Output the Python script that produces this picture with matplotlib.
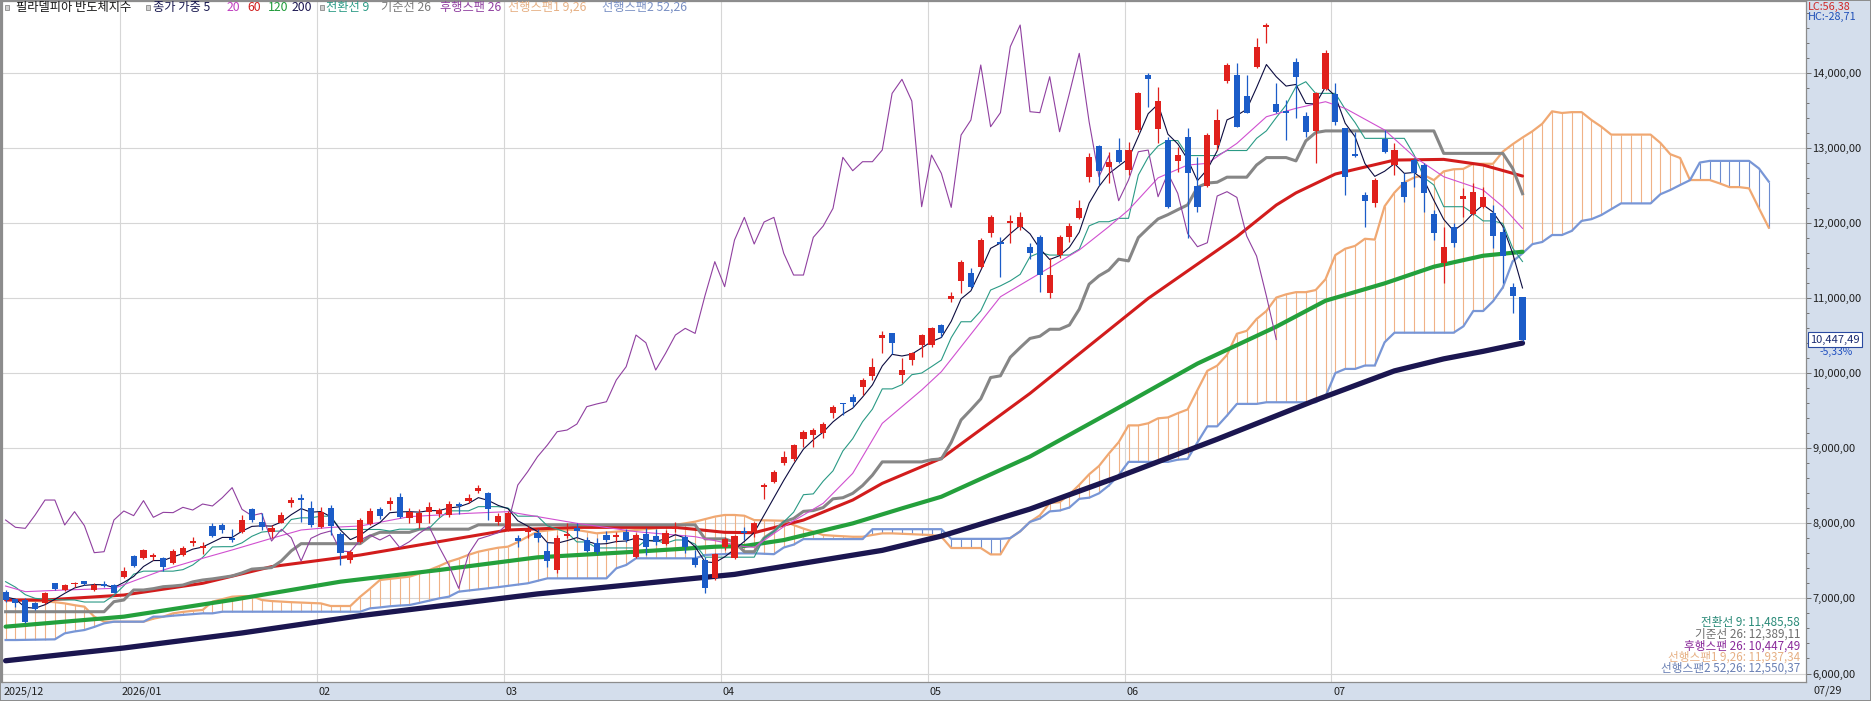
import numpy as np
import matplotlib
matplotlib.use("Agg")
import matplotlib.pyplot as plt
import matplotlib.transforms as mtransforms
from matplotlib.patches import Rectangle
from matplotlib.ticker import MultipleLocator

plt.rcParams['font.family'] = ['Noto Sans CJK KR', 'DejaVu Sans']

# ---------------- data ----------------
month_labels = ['2025/12', '2026/01', '02', '03', '04', '05', '06', '07']
month_start = [0, 12, 32, 51, 73, 94, 114, 135]

open_ = [7090, 6988, 6979, 6934, 6934, 7201, 7112, 7188, 7227, 7112,
         7192, 7178, 7281, 7565, 7534, 7547, 7534, 7467, 7578, 7733,
         7676, 7964, 7978, 7800, 7889, 8186, 8022, 7889, 8009, 8266,
         8333, 8208, 7947, 8208, 7858, 7512, 7756, 7991, 8186, 8253,
         8346, 8075, 8009, 8151, 8124, 8111, 8253, 8297, 8435, 8408,
         8013, 7920, 7809, 7884, 7875, 7631, 7378, 7836, 7933, 7778,
         7742, 7844, 7822, 7889, 7547, 7853, 7831, 7725, 7929, 7813,
         7534, 7512, 7267, 7680, 7534, 7897, 7888, 8478, 8545, 8798,
         8851, 9122, 9175, 9197, 9464, 9598, 9686, 9810, 9961, 10463,
         10529, 9974, 10174, 10374, 10374, 10640, 10990, 11231, 11328, 11408,
         11870, 11741, 12004, 11941, 11674, 11816, 11062, 11573, 11816, 12061,
         12607, 13024, 12740, 12971, 12704, 13237, 13969, 13246, 13104, 12829,
         13139, 12496, 12496, 13037, 13894, 13969, 13690, 14080, 14613, 13579,
         13481, 14147, 13423, 13228, 13778, 13712, 13259, 12913, 12371, 12269,
         13112, 12771, 12549, 12837, 12771, 12118, 11461, 11949, 12314, 12114,
         12216, 12127, 11883, 11150, 11008]
high_ = [7112, 6998, 7000, 6957, 7090, 7210, 7187, 7214, 7236, 7201,
         7232, 7192, 7414, 7578, 7658, 7600, 7547, 7658, 7698, 7822,
         7756, 8000, 8009, 7920, 8111, 8200, 8133, 7978, 8155, 8346,
         8390, 8302, 8222, 8244, 7889, 7645, 8066, 8200, 8213, 8346,
         8399, 8200, 8186, 8288, 8200, 8302, 8288, 8390, 8510, 8422,
         8142, 8169, 7844, 7964, 7920, 7756, 7844, 8009, 8009, 7822,
         7800, 7898, 7889, 7920, 7867, 7933, 7920, 7911, 8022, 7844,
         7645, 7547, 7609, 7822, 7844, 7955, 8021, 8532, 8709, 8962,
         9051, 9242, 9264, 9344, 9575, 9606, 9721, 9930, 10205, 10560,
         10540, 10196, 10285, 10520, 10618, 10660, 11080, 11506, 11395, 11794,
         12105, 11816, 12105, 12149, 11728, 11839, 11528, 11839, 11994, 12305,
         12926, 13037, 12949, 13126, 13082, 13747, 14000, 13814, 13148, 13015,
         13259, 12882, 13193, 13512, 14134, 14125, 13969, 14458, 14657, 13867,
         13636, 14191, 13481, 13747, 14302, 13858, 13259, 13214, 12416, 12593,
         13237, 13059, 12660, 12859, 12793, 12171, 11949, 11994, 12460, 12535,
         12482, 12238, 11949, 11195, 11008]
low_ = [6957, 6890, 6668, 6846, 6921, 7112, 7099, 7156, 7183, 7094,
        7147, 7068, 7267, 7414, 7520, 7512, 7369, 7454, 7565, 7698,
        7591, 7822, 7875, 7756, 7867, 8022, 7911, 7800, 8000, 8222,
        8022, 7955, 7933, 7844, 7445, 7467, 7733, 7978, 8053, 8177,
        8066, 8000, 7933, 8000, 8089, 8089, 8124, 8266, 8408, 8044,
        7978, 7898, 7680, 7800, 7756, 7423, 7334, 7800, 7822, 7622,
        7591, 7756, 7756, 7756, 7534, 7578, 7711, 7711, 7889, 7609,
        7423, 7076, 7245, 7645, 7520, 7777, 7822, 8319, 8532, 8776,
        8834, 9020, 9020, 9131, 9397, 9442, 9553, 9708, 9908, 10263,
        10254, 9863, 10107, 10219, 10352, 10480, 10950, 11062, 11128, 11395,
        11816, 11284, 11728, 11905, 11515, 11084, 10995, 11528, 11750, 12047,
        12549, 12505, 12527, 12793, 12638, 13215, 13548, 13059, 12194, 12682,
        11794, 12149, 12482, 12971, 13858, 13281, 13460, 14058, 14391, 13470,
        13104, 13392, 13148, 12793, 13769, 13303, 12371, 12880, 11949, 12216,
        12926, 12637, 12282, 12482, 12149, 11772, 11195, 11683, 12082, 12105,
        12194, 11661, 11195, 10795, 10431]
close_ = [6979, 6943, 6690, 6855, 7076, 7125, 7174, 7201, 7192, 7183,
          7165, 7076, 7369, 7432, 7645, 7574, 7423, 7631, 7676, 7764,
          7698, 7831, 7911, 7778, 8044, 8044, 7947, 7933, 8111, 8310,
          8310, 7978, 8155, 7969, 7609, 7622, 8044, 8164, 8102, 8302,
          8080, 8146, 8142, 8213, 8177, 8257, 8231, 8341, 8475, 8186,
          8102, 8133, 7764, 7920, 7809, 7498, 7800, 7862, 7898, 7631,
          7622, 7778, 7844, 7778, 7844, 7680, 7756, 7867, 7955, 7689,
          7445, 7134, 7591, 7791, 7831, 7875, 7999, 8510, 8687, 8887,
          9042, 9220, 9242, 9322, 9553, 9589, 9619, 9908, 10085, 10507,
          10405, 10041, 10263, 10507, 10596, 10529, 11030, 11484, 11151, 11772,
          12074, 11719, 12012, 12074, 11595, 11306, 11306, 11808, 11958, 12194,
          12873, 12695, 12815, 12815, 12971, 13725, 13912, 13623, 12216, 12904,
          12660, 12207, 13170, 13370, 14103, 13281, 13468, 14347, 14635, 13481,
          13468, 13947, 13214, 13725, 14258, 13348, 12615, 12895, 12296, 12571,
          12948, 12970, 12349, 12660, 12393, 11860, 11683, 11736, 12358, 12416,
          12340, 11825, 11559, 11026, 10447.49]

# weighted MA 5 (value per bar)
ma5 = [7020, 6990, 6880, 6870, 6916, 6988, 7067, 7139, 7174, 7184,
       7181, 7145, 7213, 7292, 7425, 7504, 7505, 7553, 7598, 7656,
       7684, 7748, 7812, 7812, 7895, 7959, 7967, 7963, 8017, 8115,
       8196, 8148, 8157, 8089, 7910, 7783, 7842, 7937, 8010, 8141,
       8152, 8155, 8149, 8169, 8169, 8204, 8219, 8264, 8342, 8305,
       8239, 8195, 8034, 7963, 7892, 7743, 7735, 7769, 7810, 7762,
       7723, 7729, 7757, 7765, 7803, 7772, 7762, 7791, 7848, 7804,
       7689, 7486, 7477, 7553, 7654, 7759, 7877, 8108, 8337, 8572,
       8789, 8988, 9112, 9214, 9351, 9455, 9533, 9681, 9843, 10095,
       10250, 10228, 10253, 10335, 10419, 10474, 10689, 10988, 11096, 11367,
       11661, 11733, 11857, 11966, 11855, 11658, 11513, 11563, 11676, 11876,
       12262, 12485, 12655, 12757, 12855, 13152, 13455, 13580, 13182, 13053,
       12848, 12563, 12712, 12958, 13372, 13432, 13512, 13802, 14109, 13947,
       13822, 13844, 13591, 13583, 13813, 13688, 13327, 13148, 12791, 12620,
       12688, 12789, 12660, 12672, 12569, 12301, 12047, 11896, 11993, 12130,
       12240, 12146, 11954, 11596, 11134]

# longer MAs, read at selected bars
ma20_idx = [0, 2, 6, 11, 16, 20, 23, 27, 30, 33, 36, 41, 47, 51, 54, 58, 64, 70, 75, 76,
            79, 83, 86, 89, 93, 95, 101, 105, 109, 112, 114, 117, 120, 122, 125, 128, 131,
            134, 136, 140, 143, 146, 150, 152, 154]
ma20_val = [7165, 7090, 7112, 7134, 7378, 7534, 7645, 7800, 7911, 7946, 7964, 8089, 8133,
            8155, 8089, 8000, 7889, 7822, 7690, 7680, 7955, 8266, 8665, 9331, 9775, 10019,
            11017, 11328, 11639, 11950, 12172, 12600, 12771, 12793, 13059, 13414, 13526,
            13614, 13525, 13237, 12882, 12615, 12438, 12216, 11927]
ma60_idx = [0, 4, 12, 20, 27, 36, 44, 51, 58, 68, 73, 76, 81, 86, 89, 95, 104, 116, 125,
            129, 131, 135, 141, 146, 150, 154]
ma60_val = [6979, 6979, 7045, 7201, 7423, 7578, 7756, 7911, 7946, 7946, 7880, 7875, 8043,
            8310, 8532, 8865, 9730, 10995, 11817, 12238, 12400, 12651, 12837, 12846, 12771,
            12624]
ma120_idx = [0, 12, 23, 34, 44, 54, 64, 72, 75, 79, 86, 91, 95, 104, 113, 121, 129, 134,
             140, 145, 150, 154]
ma120_val = [6624, 6757, 6980, 7223, 7378, 7547, 7622, 7688, 7698, 7777, 7999, 8199, 8354,
             8889, 9540, 10127, 10618, 10964, 11195, 11417, 11563, 11616]
ma200_idx = [0, 12, 24, 36, 54, 74, 89, 95, 104, 113, 123, 133, 141, 146, 150, 154]
ma200_val = [6170, 6340, 6540, 6770, 7060, 7320, 7640, 7830, 8190, 8620, 9120, 9640, 10030,
             10190, 10290, 10400]

# Ichimoku
conv9 = [7223, 7150, 7050, 7001, 6990, 6985, 6980, 6979, 6952, 6952,
         6952, 7041, 7168, 7323, 7363, 7363, 7363, 7363, 7383, 7445,
         7545, 7685, 7689, 7689, 7740, 7827, 7883, 7896, 7896, 8051,
         8073, 8073, 8095, 8095, 7918, 7918, 7918, 7918, 7918, 7896,
         7922, 7922, 7922, 7933, 8066, 8166, 8166, 8166, 8222, 8222,
         8222, 8204, 8095, 8095, 8095, 7967, 7922, 7878, 7752, 7752,
         7672, 7672, 7672, 7672, 7672, 7772, 7772, 7734, 7778, 7778,
         7723, 7549, 7549, 7549, 7549, 7549, 7549, 7804, 7893, 8019,
         8148, 8381, 8392, 8561, 8699, 8963, 9127, 9353, 9520, 9790,
         9790, 9846, 9979, 10001, 10086, 10174, 10472, 10684, 10684, 10829,
         11106, 11162, 11229, 11315, 11550, 11606, 11572, 11572, 11572, 11650,
         11961, 12016, 12016, 12061, 12061, 12638, 12875, 13024, 13097, 13097,
         12897, 12897, 12897, 12897, 12964, 12964, 12964, 13126, 13226, 13403,
         13570, 13814, 13880, 13725, 13725, 13725, 13514, 13337, 13126, 13126,
         13126, 13126, 13126, 12904, 12604, 12505, 12216, 12216, 12216, 12127,
         12027, 12027, 11994, 11665, 11486]
base26 = [6823, 6823, 6823, 6823, 6823, 6823, 6823, 6823, 6823, 6823,
          6823, 6957, 6979, 7112, 7112, 7130, 7156, 7165, 7178, 7220,
          7245, 7260, 7280, 7299, 7340, 7390, 7400, 7410, 7500, 7633,
          7729, 7729, 7729, 7729, 7729, 7729, 7729, 7829, 7880, 7880,
          7880, 7880, 7922, 7922, 7922, 7922, 7922, 7922, 7980, 7980,
          7980, 7980, 7980, 7980, 7980, 7980, 7980, 7980, 7980, 7980,
          7980, 7980, 7980, 7980, 7980, 7980, 7980, 7980, 7980, 7980,
          7980, 7793, 7793, 7793, 7749, 7622, 7622, 7804, 7893, 8019,
          8064, 8159, 8170, 8210, 8326, 8341, 8399, 8503, 8641, 8818,
          8818, 8818, 8818, 8818, 8847, 8858, 9078, 9376, 9513, 9657,
          9941, 9964, 10212, 10340, 10462, 10491, 10584, 10584, 10640, 10851,
          11184, 11295, 11372, 11517, 11494, 11805, 11932, 12053, 12110, 12176,
          12240, 12475, 12531, 12542, 12609, 12609, 12609, 12771, 12870, 12870,
          12870, 12826, 13092, 13203, 13225, 13225, 13225, 13225, 13225, 13225,
          13225, 13225, 13225, 13225, 13225, 13225, 12926, 12926, 12926, 12926,
          12926, 12926, 12926, 12726, 12389]
span1 = [6980, 6975, 6970, 6965, 6960, 6950, 6934, 6910, 6890, 6757,
         6690, 6690, 6690, 6690, 6690, 6730, 6757, 6801, 6820, 6835,
         6846, 6957, 6990, 7023, 7030, 7032, 6979, 6965, 6957, 6950,
         6945, 6940, 6934, 6899, 6899, 6899, 7023, 7130, 7245, 7260,
         7275, 7290, 7330, 7378, 7430, 7489, 7530, 7580, 7622, 7650,
         7675, 7689, 7750, 7822, 7889, 7905, 7920, 7915, 7911, 7890,
         7867, 7878, 7889, 7900, 7911, 7922, 7933, 7955, 7980, 8000,
         8022, 8055, 8089, 8111, 8111, 8101, 8043, 8040, 8037, 8034,
         7977, 7930, 7888, 7844, 7835, 7828, 7821, 7821, 7845, 7866,
         7866, 7860, 7855, 7850, 7844, 7822, 7671, 7671, 7671, 7671,
         7586, 7586, 7804, 7893, 8019, 8106, 8270, 8281, 8385, 8512,
         8652, 8763, 8928, 9080, 9304, 9304, 9332, 9398, 9410, 9466,
         9516, 9775, 10030, 10099, 10243, 10524, 10563, 10720, 10827, 11006,
         11049, 11078, 11078, 11106, 11250, 11572, 11656, 11694, 11789, 11778,
         12222, 12404, 12539, 12604, 12637, 12569, 12686, 12714, 12720, 12787,
         12787, 12787, 12949, 13048, 13137, 13220, 13320, 13486, 13464, 13475,
         13475, 13370, 13281, 13176, 13176, 13176, 13176, 13176, 13065, 12915,
         12865, 12571, 12571, 12571, 12527, 12477, 12477, 12460, 12196, 11937]
span2 = [6446, 6446, 6448, 6450, 6452, 6455, 6535, 6560, 6579, 6620,
         6668, 6690, 6690, 6690, 6690, 6757, 6757, 6770, 6780, 6790,
         6801, 6801, 6823, 6823, 6823, 6823, 6823, 6823, 6823, 6823,
         6823, 6823, 6823, 6823, 6823, 6823, 6823, 6868, 6880, 6895,
         6905, 6912, 6940, 6970, 7000, 7023, 7090, 7105, 7120, 7134,
         7150, 7167, 7184, 7201, 7234, 7267, 7267, 7267, 7267, 7267,
         7267, 7267, 7401, 7445, 7534, 7534, 7534, 7534, 7534, 7534,
         7534, 7578, 7585, 7590, 7600, 7600, 7600, 7595, 7589, 7678,
         7716, 7790, 7790, 7790, 7790, 7790, 7790, 7790, 7922, 7922,
         7922, 7922, 7922, 7922, 7922, 7922, 7793, 7793, 7793, 7793,
         7793, 7793, 7804, 7893, 8019, 8064, 8159, 8170, 8210, 8326,
         8341, 8399, 8503, 8641, 8818, 8818, 8818, 8818, 8818, 8847,
         8858, 9078, 9291, 9291, 9435, 9590, 9590, 9590, 9612, 9612,
         9612, 9612, 9612, 9612, 9690, 10001, 10056, 10056, 10101, 10101,
         10411, 10538, 10538, 10538, 10538, 10538, 10538, 10538, 10623, 10827,
         10827, 10956, 11140, 11488, 11595, 11717, 11746, 11839, 11839, 11894,
         12027, 12050, 12105, 12183, 12260, 12260, 12260, 12260, 12382, 12438,
         12505, 12569, 12804, 12826, 12826, 12826, 12826, 12826, 12726, 12550]
lag_shift = 25

y_ticks = [6000, 7000, 8000, 9000, 10000, 11000, 12000, 13000, 14000]
y_tick_labels = ['6,000,00', '7,000,00', '8,000,00', '9,000,00', '10,000,00',
                 '11,000,00', '12,000,00', '13,000,00', '14,000,00']

# ---------------- figure ----------------
W, H = 1871, 701
fig = plt.figure(figsize=(W / 100, H / 100), dpi=100)
fig.patch.set_facecolor('#d4deec')
ax = fig.add_axes([2 / W, (H - 681.7) / H, 1804 / W, 680.7 / H])
ax.set_facecolor('white')
ax.set_xlim(-0.365, 182.78)
ax.set_ylim(5891, 14955)

o = np.array(open_, float); h = np.array(high_, float)
l = np.array(low_, float); c = np.array(close_, float)
idx = np.arange(len(c))
fidx = np.arange(len(span1))

# grid
for v in y_ticks:
    ax.axhline(v, color='#d6d6d6', lw=0.8, zorder=0)
for m in month_start[1:]:
    ax.axvline(m - 0.4, color='#d6d6d6', lw=0.8, zorder=0)

# cloud hatch
s1 = np.array(span1, float); s2 = np.array(span2, float)
hcol = np.where(s1 >= s2, '#f0b286', '#6c8cd0')
ax.vlines(fidx, np.minimum(s1, s2), np.maximum(s1, s2), colors=hcol, lw=0.8, zorder=1)
ax.plot(fidx, s1, color='#f0a872', lw=1.6, zorder=2, solid_joinstyle='round')
ax.plot(fidx, s2, color='#7896d6', lw=1.6, zorder=2, solid_joinstyle='round')

# moving averages
ax.plot(ma200_idx, ma200_val, color='#1b1650', lw=3.8, zorder=3, solid_capstyle='round')
ax.plot(ma120_idx, ma120_val, color='#24a03c', lw=3.0, zorder=3, solid_capstyle='round')
ax.plot(ma60_idx, ma60_val, color='#d21c1c', lw=2.2, zorder=3, solid_capstyle='round')
ax.plot(idx, base26, color='#868686', lw=2.2, zorder=3)
ax.plot(idx, conv9, color='#2a9a85', lw=0.8, zorder=4)
ax.plot(ma20_idx, ma20_val, color='#d050d0', lw=0.8, zorder=4)
ax.plot(idx, ma5, color='#0c0c40', lw=0.8, zorder=4)
ax.plot(idx[:len(c) - lag_shift], c[lag_shift:], color='#9040a0', lw=0.8, zorder=4)

# candles
up = c >= o
ccol = np.where(up, '#e0201c', '#1b5cc8')
ax.vlines(idx, l, h, colors=ccol, lw=0.9, zorder=6)
body_h = np.maximum(np.abs(c - o), 16)
ax.bar(idx, body_h, bottom=np.minimum(o, c), width=0.62, color=ccol, lw=0, zorder=7)

# axes styling
for sp in ax.spines.values():
    sp.set_color('#8c8c8c'); sp.set_linewidth(0.9)
ax.spines['left'].set_linewidth(1.6)
ax.set_xticks([])
ax.yaxis.tick_right()
ax.set_yticks(y_ticks)
ax.set_yticklabels(y_tick_labels)
ax.yaxis.set_minor_locator(MultipleLocator(200))
ax.tick_params(axis='y', which='major', direction='out', length=3.6, width=0.7,
               color='#707070', pad=0.8, labelsize=8, labelcolor='#202020')
ax.tick_params(axis='y', which='minor', direction='out', length=2.2, width=0.7, color='#707070')

# month labels in bottom band
tb = mtransforms.blended_transform_factory(ax.transData, ax.transAxes)
for m, lab in zip(month_start, month_labels):
    ax.text(m - 0.2, -0.0145, lab, transform=tb, ha='left', va='center', fontsize=7.8,
            color='#202020', clip_on=False)

def fx(x): return x / W
def fy(y): return 1 - y / H

fig.text(fx(1814), fy(691), '07/29', ha='left', va='center', fontsize=7.8, color='#202020')

# top-left legend
for sx in (5, 145.5, 319.5):
    fig.patches.append(Rectangle((fx(sx), fy(9.5)), 4 / W, 4.5 / H, transform=fig.transFigure,
                                 facecolor='#d0d0d0', edgecolor='#8a8a8a', lw=0.6))
legend_items = [(16, '필라델피아 반도체지수', '#151515'),
                (153, '종가 가중 5', '#1a1a50'),
                (227, '20', '#c040c0'),
                (247, '60', '#d02020'),
                (268, '120', '#1f9a3a'),
                (292, '200', '#1b1650'),
                (326, '전환선 9', '#2a9a85'),
                (381, '기준선 26', '#7a7a7a'),
                (440, '후행스팬 26', '#9040a0'),
                (508, '선행스팬1 9,26', '#e6b084'),
                (602, '선행스팬2 52,26', '#7a90c4')]
for x, t, col in legend_items:
    fig.text(fx(x), fy(7.5), t, ha='left', va='center', fontsize=8.8, color=col)

# bottom-right indicator values
info_items = [(622, '전환선 9: 11,485,58', '#2a8a78'),
              (634, '기준선 26: 12,389,11', '#6e6e6e'),
              (646, '후행스팬 26: 10,447,49', '#8a2a9a'),
              (657, '선행스팬1 9,26: 11,937,34', '#e6b084'),
              (668.5, '선행스팬2 52,26: 12,550,37', '#6a80b4')]
for y, t, col in info_items:
    fig.text(fx(1800), fy(y), t, ha='right', va='center', fontsize=8.4, color=col)

# top-right
fig.text(fx(1808), fy(7), 'LC:56,38', ha='left', va='center', fontsize=7.8, color='#d02828')
fig.text(fx(1808), fy(16.5), 'HC:-28,71', ha='left', va='center', fontsize=7.8, color='#2050b8')

# current price box
tr = mtransforms.blended_transform_factory(ax.transAxes, ax.transData)
ax.text(1 + 4 / 1804, c[-1], '10,447,49', transform=tr, ha='left', va='center', fontsize=8,
        color='#1a2a70', clip_on=False, zorder=10,
        bbox=dict(boxstyle='square,pad=0.2', fc='white', ec='#2a4aa0', lw=0.8))
ax.annotate('-5,33%', xy=(1, c[-1]), xycoords=tr, xytext=(9.4, -9.2), textcoords='offset points',
            ha='left', va='center', fontsize=7.5, color='#2050c0', annotation_clip=False)

# outer frame
fig.patches.append(Rectangle((0, 0), 1, 1, transform=fig.transFigure, fill=False,
                             edgecolor='#8c8c8c', lw=1.4))

fig.savefig('out.png', dpi=100, facecolor=fig.get_facecolor())
